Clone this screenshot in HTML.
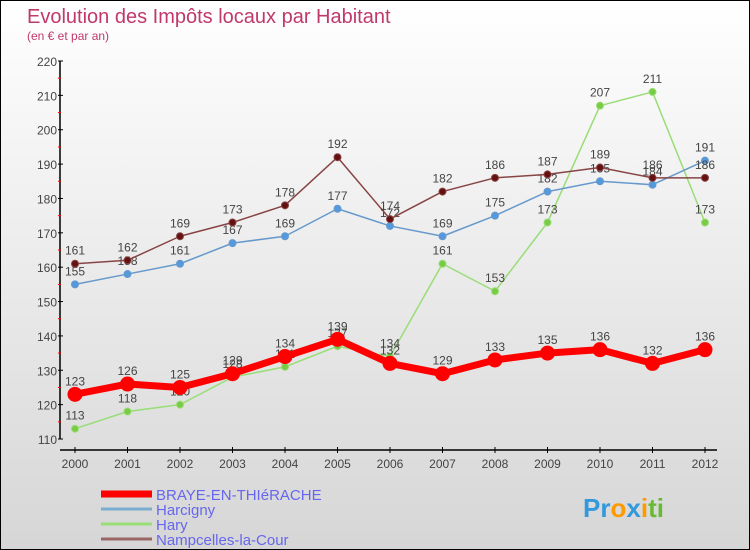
<!DOCTYPE html>
<html><head><meta charset="utf-8">
<style>
html,body{margin:0;padding:0}
body{width:750px;height:550px;overflow:hidden;font-family:"Liberation Sans",sans-serif}
#wrap{position:relative;width:748px;height:548px;border:1px solid #000;background:linear-gradient(#ffffff,#d6d6d6)}
</style></head><body>
<div id="wrap">
<svg id="chart" width="748" height="548" style="position:absolute;left:0;top:0">
<text x="26" y="22" font-size="20" fill="#c0396b">Evolution des Impôts locaux par Habitant</text>
<text x="26" y="39" font-size="12" fill="#c0396b">(en € et par an)</text>
</svg>
</div>
<script>
const years=["2000","2001","2002","2003","2004","2005","2006","2007","2008","2009","2010","2011","2012"];
const yTicks=[110,120,130,140,150,160,170,180,190,200,210,220];
const braye=[123,126,125,129,134,139,132,129,133,135,136,132,136];
const harcigny=[155,158,161,167,169,177,172,169,175,182,185,184,191];
const hary=[113,118,120,128,131,137,134,161,153,173,207,211,173];
const nampcelles=[161,162,169,173,178,192,174,182,186,187,189,186,186];
const seriesNames=["BRAYE-EN-THIéRACHE","Harcigny","Hary","Nampcelles-la-Cour"];
const NS="http://www.w3.org/2000/svg";
const svg=document.getElementById('chart');
function X(i){return 74+i*52.5;}
function Y(v){return 438-(v-110)*(378/110);}
function mk(t,a,p){const e=document.createElementNS(NS,t);for(const k in a)e.setAttribute(k,a[k]);(p||svg).appendChild(e);return e;}
// axes
let ax=mk('line',{x1:59,y1:Y(220),x2:59,y2:Y(110),stroke:'#000','stroke-width':1.5});

let bx=mk('line',{x1:59,y1:449,x2:716,y2:449,stroke:'#000','stroke-width':1.5});

yTicks.forEach(v=>{
 mk('line',{x1:57,y1:Y(v),x2:62,y2:Y(v),stroke:'#000'});
 if(v<220)mk('line',{x1:57,y1:Y(v+5),x2:60,y2:Y(v+5),stroke:'#f00'});
 const t=mk('text',{x:56,y:Y(v)+5,'font-size':12,fill:'#444','text-anchor':'end'});t.textContent=v;
 
});
years.forEach((y,i)=>{
 mk('line',{x1:X(i),y1:446,x2:X(i),y2:452,stroke:'#000'});
 const t=mk('text',{x:X(i),y:467,'font-size':12,fill:'#444','text-anchor':'middle'});t.textContent=y;
 
});
function series(data,color,w,r,fill,name){
 const g=mk('g',{});
 mk('polyline',{points:data.map((v,i)=>X(i)+','+Y(v)).join(' '),fill:'none',stroke:color,'stroke-width':w,'stroke-linejoin':'round'},g);
 data.forEach((v,i)=>{
  const c=mk('circle',{cx:X(i),cy:Y(v),r:r,fill:fill,stroke:color,'stroke-width':1},g);
  
  const t=mk('text',{x:X(i),y:Y(v)-9,'font-size':12,fill:'#444','text-anchor':'middle'},g);t.textContent=v;
  
 });
}
series(hary,'#99dd77',1.5,3.5,'#77cc44','series-hary');
series(harcigny,'#6699cc',1.5,3.5,'#5599dd','series-harcigny');
series(nampcelles,'#884444',1.5,3.5,'#661111','series-nampcelles');
series(braye,'#ff0000',7,7,'#ff0000','series-braye');
const lc=[['#ff0000',7],['#7aaed0',3],['#99dd77',3],['#996666',3]];
seriesNames.forEach((n,i)=>{
 const yy=493+i*15;
 const g=mk('g',{});
 mk('line',{x1:100,y1:yy,x2:151,y2:yy,stroke:lc[i][0],'stroke-width':lc[i][1]},g);
 const t=mk('text',{x:155,y:yy+6,'font-size':15,fill:'#6666ee'},g);t.textContent=n;
});
const p=mk('text',{x:582,y:516,'font-size':26,'font-weight':'bold',fill:'#3399dd'});

p.innerHTML='<tspan fill="#3399dd">Pr</tspan><tspan fill="#ff9900">o</tspan><tspan fill="#3399dd">x</tspan><tspan fill="#ff9900">i</tspan><tspan fill="#66bb33">ti</tspan>';
</script>
</body></html>
